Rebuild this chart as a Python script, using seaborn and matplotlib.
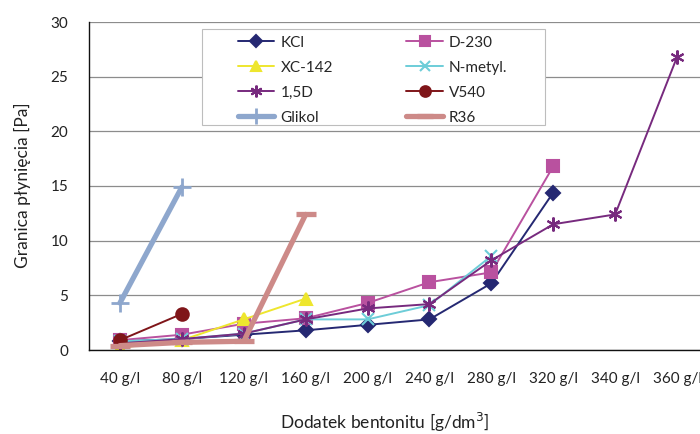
import numpy as np
import pandas as pd
import matplotlib
matplotlib.use("Agg")
import matplotlib.pyplot as plt
from matplotlib.patches import Rectangle
import seaborn as sns

nan = np.nan
categories = ['40 g/l', '80 g/l', '120 g/l', '160 g/l', '200 g/l',
              '240 g/l', '280 g/l', '320 g/l', '340 g/l', '360 g/l']
kcl    = [0.8, 1.0, 1.4, 1.8, 2.3, 2.8, 6.1, 14.4, nan, nan]
d230   = [0.9, 1.4, 2.4, 2.9, 4.3, 6.2, 7.1, 16.8, nan, nan]
xc142  = [0.2, 0.9, 2.8, 4.7, nan, nan, nan, nan, nan, nan]
nmetyl = [0.8, 1.0, 1.5, 2.8, 2.8, 4.1, 8.6, nan, nan, nan]
d15    = [0.6, 1.0, 1.5, 2.8, 3.8, 4.2, 8.2, 11.5, 12.4, 26.8]
v540   = [0.9, 3.3, nan, nan, nan, nan, nan, nan, nan, nan]
glikol = [4.3, 14.9, nan, nan, nan, nan, nan, nan, nan, nan]
r36    = [0.4, 0.7, 0.8, 12.4, nan, nan, nan, nan, nan, nan]

series = [
    ('KCl', kcl, '#252872', 'D', 7, 1.4),
    ('D-230', d230, '#B9519F', 's', 8, 1.4),
    ('XC-142', xc142, '#EEE62E', '^', 9, 1.4),
    ('N-metyl.', nmetyl, '#6DCDD8', 'x', 8, 1.4),
    ('1,5D', d15, '#772A7E', (6, 2, 0), 10, 1.4),
    ('V540', v540, '#7F1519', 'o', 9, 1.4),
    ('Glikol', glikol, '#8EA7CD', '+', 13, 3.8),
    ('R36', r36, '#CD8A88', '_', 14, 3.8),
]

sns.set_style("white")
plt.rcParams['font.family'] = ['Lato', 'DejaVu Sans']

W, H = 700, 434
fig = plt.figure(figsize=(W/100, H/100), dpi=100)
ax = fig.add_axes([89/W, 1-350/H, 619/W, 328/H])

xs = np.arange(len(categories))
for name, vals, color, marker, ms, lw in series:
    df = pd.DataFrame({'x': xs, 'y': vals}).dropna()
    mew = 1.5
    if marker == '+':
        mew = 2.0
    if marker == '_':
        mew = 3.8
    sns.lineplot(data=df, x='x', y='y', ax=ax, color=color, lw=lw,
                 marker=marker, markersize=ms, markeredgecolor=color,
                 markerfacecolor=color, markeredgewidth=mew, label=name)

ax.set_xlim(-0.5, 9.5)
ax.set_ylim(0, 30)
ax.set_yticks([0, 5, 10, 15, 20, 25, 30])
ax.set_xticks(xs)
ax.set_xticklabels(categories)
ax.set_xticks(np.arange(0.5, 9.5, 1.0), minor=True)
ax.tick_params(axis='x', which='major', length=0, pad=16, labelsize=11, colors='#222222')
ax.tick_params(axis='x', which='minor', length=5, width=0.8, color='#888888', direction='out')
ax.tick_params(axis='y', which='major', length=6, width=0.8, color='#888888', direction='out',
               labelsize=11, labelcolor='#222222', pad=9)
ax.yaxis.grid(True, color='#8c8c8c', lw=0.9)
ax.xaxis.grid(False)
for s in ['top', 'right']:
    ax.spines[s].set_visible(False)
ax.spines['left'].set_color('#111111')
ax.spines['bottom'].set_color('#111111')
ax.spines['left'].set_linewidth(1.0)
ax.spines['bottom'].set_linewidth(1.0)

ax.set_xlabel('Dodatek bentonitu [g/dm$^3$]', fontsize=12.5, color='#222222')
ax.set_ylabel('Granica płynięcia [Pa]', fontsize=12.5, color='#222222')
ax.xaxis.set_label_coords((385-89)/619, -(411-350)/328)
ax.yaxis.set_label_coords(-(89-31)/619, (350-185)/328)

# legend frame
frame = Rectangle((202/W, 1-125/H), (545-202)/W, (125-29)/H,
                  transform=fig.transFigure, facecolor='white',
                  edgecolor='#bdbdbd', lw=0.8, zorder=5, clip_on=False)
ax.add_patch(frame)

h, l = ax.get_legend_handles_labels()
order = [0, 2, 4, 6, 1, 3, 5, 7]
leg = ax.legend([h[i] for i in order], [l[i] for i in order], ncol=2,
                loc='upper left', bbox_to_anchor=((233-89)/619, (350-31)/328),
                frameon=False, fontsize=11, borderaxespad=0, markerscale=0.85,
                handlelength=2.4, columnspacing=4.8, labelspacing=0.72,
                borderpad=0.3, handletextpad=0.4)
leg.set_zorder(6)

fig.savefig('out.png', dpi=100)
